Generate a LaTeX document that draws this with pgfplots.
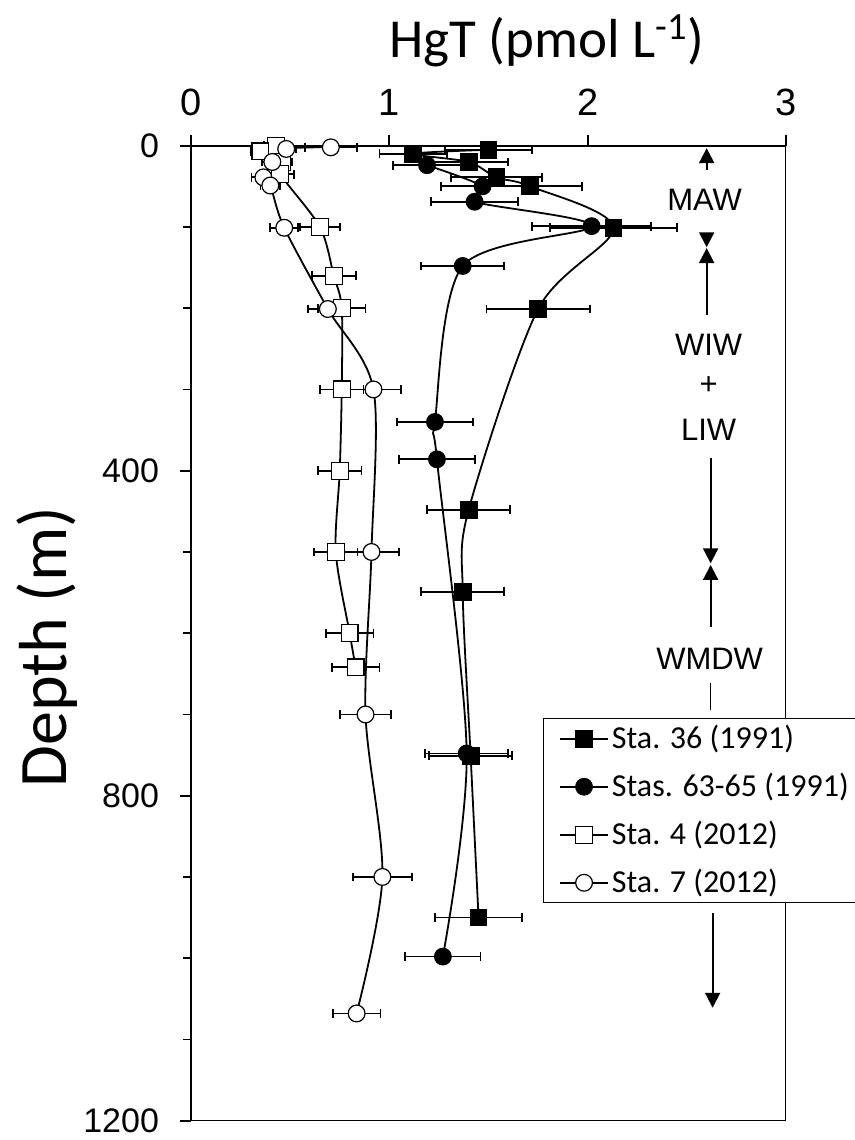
\documentclass[border=0pt]{standalone}
\usepackage{fontspec}
\setmainfont{Carlito}
\newfontfamily\arial{Liberation Sans}
\usepackage{pgfplots}
\pgfplotsset{compat=1.18}
\usetikzlibrary{arrows.meta,calc}

% HgT profiles: x = HgT (pmol/L), y = depth (m), e = error
\pgfplotstableread{
x     y    e
1.50  5    0.22
1.12  10   0.17
1.40  20   0.20
1.54  39   0.23
1.71  50   0.26
2.13  101  0.32
1.75  201  0.26
1.40  448  0.21
1.37  549  0.21
1.41  751  0.21
1.45  950  0.22
}\staA
\pgfplotstableread{
x     y    e
1.19  24   0.17
1.47  50   0.21
1.43  69   0.22
2.02  99   0.30
1.37  148  0.21
1.23  340  0.19
1.24  386  0.19
1.39  748  0.21
1.27  998  0.19
}\staB
\pgfplotstableread{
x     y    e
0.43  0    0.06
0.35  7    0.05
0.46  20   0.05
0.45  35   0.07
0.65  100  0.10
0.72  160  0.11
0.76  200  0.12
0.76  300  0.11
0.75  400  0.11
0.73  500  0.11
0.80  600  0.12
0.83  642  0.12
}\staC
\pgfplotstableread{
x     y    e
0.705 2    0.13
0.48  4    0.05
0.41  20   0.05
0.365 39   0.06
0.40  49   0.05
0.47  101  0.07
0.69  201  0.10
0.92  300  0.14
0.91  500  0.14
0.88  700  0.13
0.965 900  0.15
0.835 1068 0.12
}\staD

\begin{document}
\begin{tikzpicture}
\begin{axis}[
  name=ax,
  scale only axis, width=297.5pt, height=487.5pt,
  xmin=0, xmax=3, ymin=0, ymax=1200, y dir=reverse,
  xtick={0,1,2,3}, ytick={0,400,800,1200},
  minor ytick={100,200,300,500,600,700,900,1000,1100},
  xtick pos=upper, xticklabel pos=upper, ytick pos=left,
  tick align=outside,
  major tick length=5.5pt, minor tick length=4pt,
  every tick/.style={black, line width=0.9pt},
  axis line style={line width=0.5pt},
  clip=false,
  /pgf/number format/assume math mode=true,
  /pgf/number format/1000 sep={},
  xticklabel style={font=\arial\fontsize{19}{19}\selectfont, yshift=6pt},
  yticklabel style={font=\arial\fontsize{17}{17}\selectfont, xshift=-7pt},
  xlabel={HgT (pmol L\textsuperscript{-1})},
  xlabel style={at={(axis description cs:0.598,1.09)}, anchor=base, font=\fontsize{27.5}{27.5}\selectfont},
  ylabel={Depth (m)},
  ylabel style={at={(axis description cs:-0.242,0.486)}, anchor=center, font=\fontsize{34}{34}\selectfont},
  legend style={at={(axis description cs:0.591,0.413)}, anchor=north west,
    draw=black, line width=0.5pt, font=\fontsize{16}{19}\selectfont,
    inner xsep=8pt, inner ysep=1.5pt, row sep=6.8pt,
    nodes={inner xsep=1.5pt}},
  legend cell align=left,
  legend image code/.code={\draw[mark repeat=2,mark phase=2,#1] plot coordinates {(0pt,0pt) (12pt,0pt) (24pt,0pt)};},
  every axis plot/.append style={black, line width=0.9pt, smooth, tension=0.5},
  error bars/error bar style={line width=0.9pt, solid},
  error bars/error mark options={line width=0.9pt, mark size=2.2pt, rotate=90},
]
\addplot[mark=square*, mark size=4.2pt, mark options={fill=black, line width=0.5pt},
  error bars/.cd, x dir=both, x explicit]
  table[x=x, y=y, x error=e]{\staA};
\addlegendentry{Sta. 36 (1991)}
\addplot[mark=*, mark size=4.2pt, mark options={fill=black, line width=0.5pt},
  error bars/.cd, x dir=both, x explicit]
  table[x=x, y=y, x error=e]{\staB};
\addlegendentry{Stas. 63-65 (1991)}
\addplot[mark=square*, mark size=4.2pt, mark options={fill=white, line width=0.6pt},
  error bars/.cd, x dir=both, x explicit]
  table[x=x, y=y, x error=e]{\staC};
\addlegendentry{Sta. 4 (2012)}
\addplot[mark=*, mark size=4.2pt, mark options={fill=white, line width=0.6pt},
  error bars/.cd, x dir=both, x explicit]
  table[x=x, y=y, x error=e]{\staD};
\addlegendentry{Sta. 7 (2012)}

% axis lines drawn heavier on left and top
\draw[line width=1pt] (axis cs:0,1200) -- (axis cs:0,0) -- (axis cs:3,0);

% water mass annotations
\begin{scope}[line width=1pt, >={Triangle[width=7.5pt,length=7.5pt]}]
\draw[->] (axis cs:2.60,30) -- (axis cs:2.60,3);
\draw[->] (axis cs:2.60,107) -- (axis cs:2.60,125);
\draw[->] (axis cs:2.60,208) -- (axis cs:2.60,126);
\draw[->] (axis cs:2.62,384) -- (axis cs:2.62,514);
\draw[->] (axis cs:2.62,592) -- (axis cs:2.62,516);
\draw[line width=0.6pt] (axis cs:2.62,661) -- (axis cs:2.62,695);
\draw[->] (axis cs:2.63,944) -- (axis cs:2.63,1061);
\end{scope}
\begin{scope}[every node/.style={font=\arial\fontsize{15.5}{15.5}\selectfont}]
\node at (axis cs:2.59,67) {MAW};
\node at (axis cs:2.61,245) {WIW};
\node at (axis cs:2.61,295) {+};
\node at (axis cs:2.61,350) {LIW};
\node at (axis cs:2.615,631) {WMDW};
\end{scope}
\end{axis}
\pgfresetboundingbox
\path[use as bounding box] ($(ax.south west)+(-95.5pt,-9.65pt)$) rectangle ($(ax.north east)+(34.15pt,72.85pt)$);
\end{tikzpicture}
\end{document}
